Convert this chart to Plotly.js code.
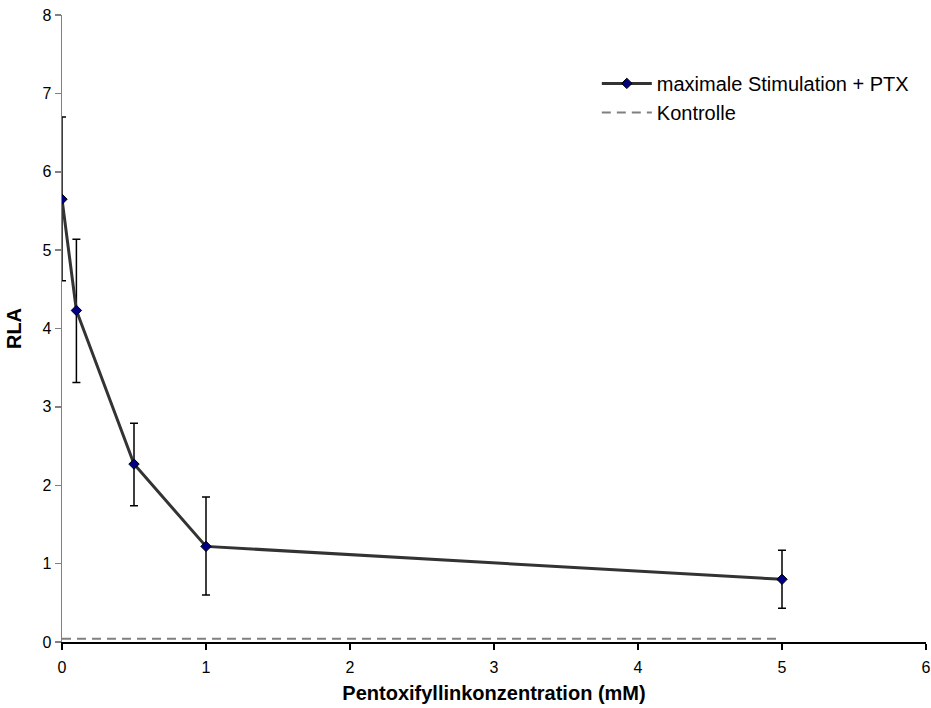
<!DOCTYPE html>
<html>
<head>
<meta charset="utf-8">
<script src="https://cdn.plot.ly/plotly-3.0.1.min.js"></script>
<style>html,body{margin:0;padding:0;background:#fff;}#chart{width:931px;height:708px;}</style>
</head>
<body>
<div id="chart"></div>
<script>
const concentration = [0, 0.1, 0.5, 1, 5];
const rla = [5.65, 4.23, 2.27, 1.22, 0.80];
const errUpper = [6.70, 5.14, 2.79, 1.85, 1.17];
const errLower = [4.61, 3.31, 1.74, 0.60, 0.43];
const controlX = [0, 5];
const controlY = [0.04, 0.04];
const xTicks = [0, 1, 2, 3, 4, 5, 6];
const yTicks = [0, 1, 2, 3, 4, 5, 6, 7, 8];

const plus = errUpper.map((u, i) => u - rla[i]);
const minus = rla.map((v, i) => v - errLower[i]);

const traces = [
  {
    x: concentration, y: rla, type: 'scatter', mode: 'lines+markers',
    name: 'maximale Stimulation + PTX',
    line: {color: '#333333', width: 3},
    marker: {symbol: 'diamond', size: 8, color: '#000080', line: {color: '#000000', width: 1}},
    error_y: {type: 'data', symmetric: false, array: plus, arrayminus: minus,
              color: '#000000', thickness: 1.5, width: 4}
  },
  {
    x: controlX, y: controlY, type: 'scatter', mode: 'lines',
    name: 'Kontrolle',
    line: {color: '#808080', width: 2, dash: '9px,6px'}
  }
];

const layout = {
  width: 931, height: 708,
  margin: {l: 62, r: 5, t: 15, b: 66},
  paper_bgcolor: '#ffffff', plot_bgcolor: '#ffffff',
  font: {family: 'Liberation Sans, Arial, sans-serif', size: 16, color: '#000'},
  showlegend: true,
  legend: {x: 0.619, y: 0.922, xanchor: 'left', yanchor: 'top', bgcolor: 'rgba(0,0,0,0)',
           font: {size: 20, color: '#000'}, tracegroupgap: 0, itemwidth: 50},
  xaxis: {
    range: [0, 6], tickvals: xTicks, ticktext: xTicks.map(String),
    showgrid: false, zeroline: false, showline: true, linecolor: '#000', linewidth: 1.5,
    ticks: 'outside', ticklen: 6, tickcolor: '#000', tickwidth: 1.5,
    tickfont: {size: 16}, ticklabelstandoff: 4,
    title: {text: '<b>Pentoxifyllinkonzentration (mM)</b>', font: {size: 20}, standoff: 11}
  },
  yaxis: {
    range: [0, 8], tickvals: yTicks, ticktext: yTicks.map(String),
    showgrid: false, zeroline: false, showline: true, linecolor: '#808080', linewidth: 1.5,
    ticks: 'outside', ticklen: 6, tickcolor: '#808080', tickwidth: 1.5,
    tickfont: {size: 16},
    title: {text: '<b>RLA</b>', font: {size: 20}, standoff: 15}
  }
};

Plotly.newPlot('chart', traces, layout, {displayModeBar: false, staticPlot: true});
</script>
</body>
</html>
